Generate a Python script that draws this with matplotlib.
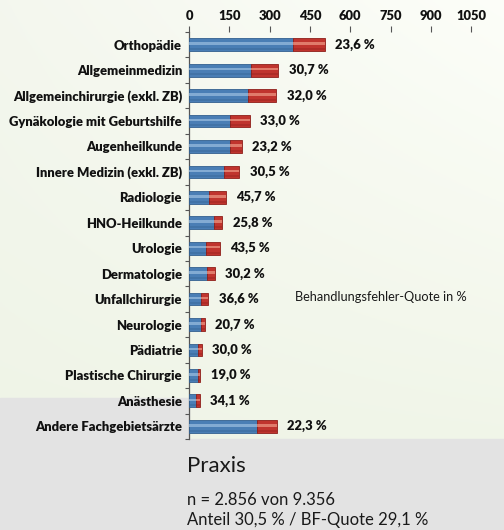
import matplotlib
matplotlib.use("Agg")
import matplotlib.pyplot as plt
import numpy as np
from matplotlib.patches import Rectangle

categories = ["Orthopädie", "Allgemeinmedizin", "Allgemeinchirurgie (exkl. ZB)",
              "Gynäkologie mit Geburtshilfe", "Augenheilkunde", "Innere Medizin (exkl. ZB)",
              "Radiologie", "HNO-Heilkunde", "Urologie", "Dermatologie", "Unfallchirurgie",
              "Neurologie", "Pädiatrie", "Plastische Chirurgie", "Anästhesie",
              "Andere Fachgebietsärzte"]
kein_fehler = [386, 230, 221, 152, 151, 130, 75, 92, 65, 67, 45, 46, 33, 34, 27, 254]
fehler = [119, 102, 104, 75, 46, 57, 63, 32, 50, 29, 26, 12, 14, 8, 14, 73]
quote_labels = ["23,6 %", "30,7 %", "32,0 %", "33,0 %", "23,2 %", "30,5 %", "45,7 %",
                "25,8 %", "43,5 %", "30,2 %", "36,6 %", "20,7 %", "30,0 %", "19,0 %",
                "34,1 %", "22,3 %"]
xticks = [0, 150, 300, 450, 600, 750, 900, 1050]

W, H = 504, 530
fig = plt.figure(figsize=(W / 100, H / 100), dpi=100)

# background gradient
bg = fig.add_axes([0, 0, 1, 1])
bg.set_axis_off()
yy, xx = np.mgrid[0:1:200j, 0:1:200j]
t = np.clip(0.8 * yy + 0.3 * (1 - xx) - 0.3 * (yy * (1 - xx)), 0, 1)
top = np.array([0.97, 0.976, 0.955])
bot = np.array([0.925, 0.95, 0.885])
img = top[None, None, :] * (1 - t[..., None]) + bot[None, None, :] * t[..., None]
img = img + (0.02 * (xx * (1 - yy)))[..., None]
img = np.clip(img, 0, 1)
bg.imshow(img, extent=[0, 1, 0, 1], origin="upper", aspect="auto")
bg.set_xlim(0, 1)
bg.set_ylim(0, 1)
gray = "#e3e3e3"
bg.add_patch(Rectangle((0, 0), 1, 1 - 439 / H, color=gray, zorder=2))
bg.add_patch(Rectangle((0, 0), 189 / W, 1 - 398 / H, color=gray, zorder=2))

plt.rcParams["font.family"] = ["Lato", "DejaVu Sans"]

ax = fig.add_axes([189 / W, 1 - 439 / H, 1 - 189 / W, (439 - 32) / H])
ax.patch.set_alpha(0)
n = len(categories)
y = np.arange(n)
bh = 0.5
blue, blue_hi, blue_ed = "#4a7eb5", "#9cbfe0", "#33608f"
red, red_hi, red_ed = "#c0342e", "#ee9a86", "#8e1f1a"

ax.barh(y, kein_fehler, height=bh, color=blue, edgecolor=blue_ed, linewidth=0.6, zorder=3)
ax.barh(y, fehler, left=kein_fehler, height=bh, color=red, edgecolor=red_ed, linewidth=0.6, zorder=3)
# highlight stripes for a cylinder look
ax.barh(y - 0.04, kein_fehler, height=bh * 0.2, color=blue_hi, alpha=0.7, linewidth=0, zorder=4)
ax.barh(y - 0.04, fehler, left=kein_fehler, height=bh * 0.2, color=red_hi, alpha=0.7, linewidth=0, zorder=4)
ax.barh(y + 0.17, kein_fehler, height=bh * 0.16, color=blue_ed, alpha=0.35, linewidth=0, zorder=4)
ax.barh(y + 0.17, fehler, left=kein_fehler, height=bh * 0.16, color=red_ed, alpha=0.35, linewidth=0, zorder=4)

fs = 9.35
for i in range(n):
    total = kein_fehler[i] + fehler[i]
    ax.annotate(quote_labels[i], (total, y[i]), xytext=(7.5, 0), textcoords="offset points",
                va="center", ha="left", fontsize=fs, fontweight="heavy", color="#111111")

ax.set_xlim(0, (W - 189) / 0.2688)
ax.set_ylim(n - 0.5, -0.5)
ax.xaxis.tick_top()
ax.set_xticks(xticks)
ax.set_xticklabels([str(v) for v in xticks], fontsize=fs, fontweight="heavy", color="#111111")
ax.tick_params(axis="x", direction="out", length=4, width=0.8, color="#555555", pad=3)
ax.set_yticks(y)
ax.set_yticklabels(categories, fontsize=fs, fontweight="heavy", color="#111111")
ax.tick_params(axis="y", length=0, pad=5)
ax.set_yticks(np.arange(n + 1) - 0.5, minor=True)
ax.tick_params(axis="y", which="minor", direction="out", length=3, width=0.8, color="#555555")
for s in ["top", "right", "bottom"]:
    ax.spines[s].set_visible(False)
ax.spines["left"].set_color("#555555")
ax.spines["left"].set_linewidth(0.9)

fig.text(295 / W, 1 - 297 / H, "Behandlungsfehler-Quote in %", fontsize=9.2,
         va="center", ha="left", color="#1a1a1a")
fig.text(187 / W, 1 - 466 / H, "Praxis", fontsize=16, va="center", ha="left", color="#1a1a1a")
fig.text(187 / W, 1 - 500 / H, "n = 2.856 von 9.356", fontsize=12.0, va="center", ha="left", color="#1a1a1a")
fig.text(187 / W, 1 - 520 / H, "Anteil 30,5 % / BF-Quote 29,1 %", fontsize=12.0, va="center", ha="left", color="#1a1a1a")

fig.savefig("out.png", dpi=100)
